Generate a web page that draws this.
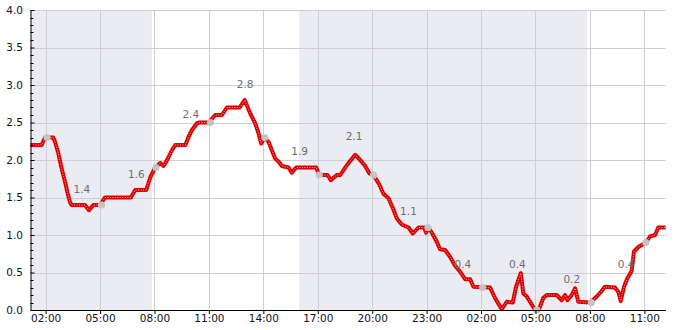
<!DOCTYPE html>
<html>
<head>
<meta charset="utf-8">
<script src="https://cdn.jsdelivr.net/npm/d3@7"></script>
<style>
  body { margin: 0; background: #fff; }
  svg { display: block; font-family: "DejaVu Sans", sans-serif; }
</style>
</head>
<body>
<div id="chart"></div>
<script>
// hours counted from midnight of the first day (25 = 01:00 next day)
const hours = [
  1.17, 1.78, 1.97, 2.42, 2.52, 2.70, 2.88, 3.07, 3.21, 3.34, 3.43, 4.17, 4.39, 4.63, 5.00,
  5.27, 6.70, 6.94, 7.55, 7.77, 8.04, 8.32, 8.50, 8.65, 8.78, 8.96, 9.15, 9.70, 9.88, 10.07,
  10.34, 10.47, 10.98, 11.35, 11.72, 11.99, 12.69, 12.97, 13.28, 13.55, 13.73, 13.88, 14.06,
  14.29, 14.47, 14.65, 14.84, 15.02, 15.39, 15.57, 15.81, 16.91, 17.09, 17.54, 17.72, 18.05,
  18.24, 18.60, 19.06, 19.34, 19.61, 19.85, 20.07, 20.40, 20.62, 20.90, 21.17, 21.36, 21.63,
  22.00, 22.24, 22.55, 22.86, 22.97, 23.10, 23.29, 23.56, 23.74, 24.02, 24.29, 24.57, 24.85,
  25.12, 25.40, 25.58, 26.50, 26.77, 27.14, 27.42, 27.75, 27.93, 28.19, 28.33, 28.52, 28.80,
  28.98, 29.21, 29.43, 29.62, 30.17, 30.45, 30.63, 30.76, 31.00, 31.18, 31.36, 32.01, 32.38,
  32.60, 32.83, 33.38, 33.57, 33.70, 33.88, 34.06, 34.30, 34.43, 34.67, 35.09, 35.31, 35.59,
  35.77, 36.17,
];
const values = [
  2.2, 2.2, 2.3, 2.3, 2.24, 2.09, 1.89, 1.71, 1.56, 1.44, 1.4, 1.4, 1.33, 1.4, 1.4,
  1.5, 1.5, 1.6, 1.6, 1.77, 1.9, 1.96, 1.92, 1.98, 2.04, 2.13, 2.2, 2.2, 2.31, 2.4,
  2.49, 2.5, 2.5, 2.6, 2.6, 2.7, 2.7, 2.8, 2.62, 2.49, 2.36, 2.22, 2.3,
  2.24, 2.13, 2.02, 1.98, 1.92, 1.9, 1.83, 1.9, 1.9, 1.8, 1.8, 1.73, 1.8,
  1.8, 1.93, 2.07, 2.0, 1.92, 1.82, 1.8, 1.67, 1.55, 1.49, 1.34, 1.22, 1.14,
  1.1, 1.02, 1.1, 1.1, 1.03, 1.1, 1.03, 0.91, 0.81, 0.8, 0.71, 0.59, 0.51,
  0.41, 0.41, 0.31, 0.3, 0.16, 0.01, 0.11, 0.1, 0.31, 0.49, 0.22, 0.18, 0.07,
  0.0, 0.02, 0.16, 0.2, 0.2, 0.13, 0.2, 0.13, 0.2, 0.29, 0.11, 0.1, 0.18,
  0.24, 0.31, 0.3, 0.24, 0.12, 0.31, 0.42, 0.52, 0.78, 0.84, 0.9, 0.98, 1.0,
  1.1, 1.1,
];
const markerHours = [2.08, 5.08, 8.08, 11.08, 14.08, 17.08, 20.08, 23.08, 26.08, 29.08, 32.08, 35.08];
const markerValues = [2.3, 1.4, 1.9, 2.5, 2.3, 1.8, 1.8, 1.1, 0.3, 0.0, 0.1, 0.9];
const labelHours = [4, 7, 10, 13, 16, 19, 22, 25, 28, 31, 34];
const labelValues = [1.4, 1.6, 2.4, 2.8, 1.9, 2.1, 1.1, 0.4, 0.4, 0.2, 0.4];
const shadedBands = [[1.17, 7.86], [15.98, 31.86]];
const tickHours = [2, 5, 8, 11, 14, 17, 20, 23, 26, 29, 32, 35];
const yTicks = [0, 0.5, 1, 1.5, 2, 2.5, 3, 3.5, 4];
const domainHours = [1.1667, 36.1667];

const width = 685;
const height = 330;
const margin = { top: 10, right: 19.5, bottom: 20, left: 30.5 };

const base = new Date(2024, 0, 1).getTime();
const toDate = h => new Date(base + h * 3600e3);

const x = d3
  .scaleTime()
  .domain(domainHours.map(toDate))
  .range([margin.left, width - margin.right]);
const y = d3
  .scaleLinear()
  .domain([0, 4])
  .range([height - margin.bottom, margin.top]);

const svg = d3
  .select('#chart')
  .append('svg')
  .attr('width', width)
  .attr('height', height);

// shaded periods
svg
  .append('g')
  .selectAll('rect')
  .data(shadedBands)
  .join('rect')
  .attr('x', d => x(toDate(d[0])))
  .attr('width', d => x(toDate(d[1])) - x(toDate(d[0])))
  .attr('y', y(4))
  .attr('height', y(0) - y(4))
  .attr('fill', '#ebecf2');

// grid
const grid = svg.append('g').attr('stroke', '#cfcfd3').attr('stroke-width', 1);
grid
  .selectAll('line.h')
  .data(yTicks.filter(d => d > 0))
  .join('line')
  .attr('class', 'h')
  .attr('x1', margin.left)
  .attr('x2', width - margin.right)
  .attr('y1', d => Math.round(y(d)) + 0.5)
  .attr('y2', d => Math.round(y(d)) + 0.5);
grid
  .selectAll('line.v')
  .data(tickHours)
  .join('line')
  .attr('class', 'v')
  .attr('x1', d => Math.round(x(toDate(d))) + 0.5)
  .attr('x2', d => Math.round(x(toDate(d))) + 0.5)
  .attr('y1', y(4))
  .attr('y2', y(0));

// line
const lineFn = d3
  .line()
  .x((_, i) => x(toDate(hours[i])))
  .y(d => y(d));

svg
  .append('path')
  .attr('fill', 'none')
  .attr('stroke', '#d80000')
  .attr('stroke-width', 4)
  .attr('stroke-linejoin', 'round')
  .attr('d', lineFn(values));
svg
  .append('path')
  .attr('fill', 'none')
  .attr('stroke', '#ffb0b0')
  .attr('stroke-width', 1)
  .attr('stroke-dasharray', '1 1.5')
  .attr('d', lineFn(values));

// markers
svg
  .append('g')
  .selectAll('circle')
  .data(markerValues)
  .join('circle')
  .attr('cx', (_, i) => x(toDate(markerHours[i])))
  .attr('cy', d => y(d))
  .attr('r', 3.6)
  .attr('fill', '#c4c4c4');

// value labels
svg
  .append('g')
  .attr('font-size', 10.5)
  .attr('fill', '#6e6e6e')
  .attr('text-anchor', 'middle')
  .selectAll('text')
  .data(labelValues)
  .join('text')
  .attr('x', (_, i) => x(toDate(labelHours[i])))
  .attr('y', d => y(d) - 16)
  .attr('dy', '0.36em')
  .text(d => d.toFixed(1));

// axes
const xAxis = g =>
  g
    .attr('transform', `translate(0, ${height - margin.bottom})`)
    .call(
      d3
        .axisBottom(x)
        .tickValues(tickHours.map(toDate))
        .tickFormat(d3.timeFormat('%H:%M'))
        .tickSize(4)
        .tickSizeOuter(0),
    )
    .call(g => g.selectAll('text').attr('fill', '#111').attr('dy', '0.5em'))
    .call(g => g.selectAll('line, path').attr('stroke', '#000'))
    .attr('font-family', null)
    .attr('font-size', 10.5);

const yAxis = g =>
  g
    .attr('transform', `translate(${margin.left}, 0)`)
    .call(
      d3
        .axisLeft(y)
        .tickValues(yTicks)
        .tickFormat(d3.format('.1f'))
        .tickSize(-4)
        .tickPadding(7.5)
        .tickSizeOuter(0),
    )
    .call(g => g.selectAll('text').attr('fill', '#111'))
    .call(g => g.selectAll('line, path').attr('stroke', '#000'))
    .attr('font-family', null)
    .attr('font-size', 10.5);

// minor ticks every 0.1
svg
  .append('g')
  .attr('stroke', '#000')
  .selectAll('line')
  .data(d3.range(0, 41).map(d => d / 10).filter((_, i) => i % 5 !== 0))
  .join('line')
  .attr('x1', margin.left)
  .attr('x2', margin.left + 3)
  .attr('y1', d => Math.round(y(d)) + 0.5)
  .attr('y2', d => Math.round(y(d)) + 0.5);

svg.append('g').call(xAxis);
svg.append('g').call(yAxis);
</script>
</body>
</html>
